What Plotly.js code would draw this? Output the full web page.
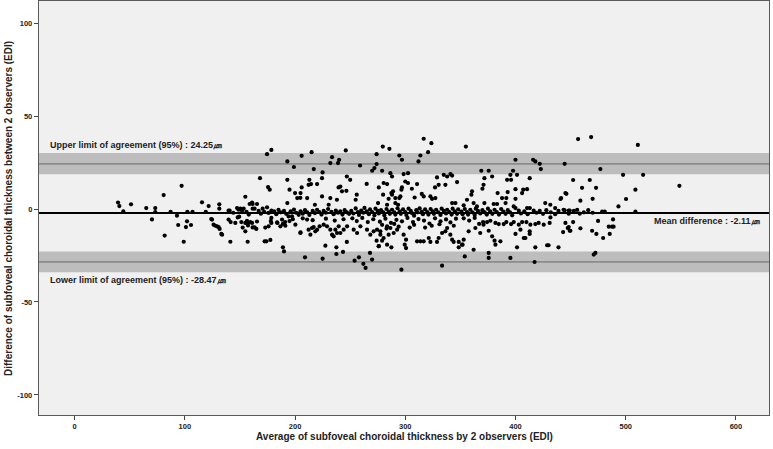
<!DOCTYPE html>
<html>
<head>
<meta charset="utf-8">
<script src="https://cdn.plot.ly/plotly-3.0.1.min.js"></script>
<style>
  body { margin: 0; background: #fff; }
  #chart { width: 773px; height: 449px; }
</style>
</head>
<body>
<div id="chart"></div>
<script>
// Bland-Altman: average of 2 observers (x) vs difference (y)
const meanDiff = -2.11;
const upperLoA = 24.25;
const lowerLoA = -28.47;
const upperBand = [18.7, 30.2];
const lowerBand = [-34.0, -22.9];
const xTicks = [0, 100, 200, 300, 400, 500, 600];
const yTicks = [-100, -50, 0, 50, 100];

// [average, difference] pairs, split by x range
const ptsBelow140 = [
  [39.4, 3.5], [40.6, 1.6], [44.2, -1.3], [51.2, 2.5], [65, 0.5], [70.2, -5.6], [73.2, 0.5], [73.2, -1.6],
  [80.8, 7.5], [81.7, -14.3], [87.1, -1.5], [92.9, -3.6], [94, -8.6], [97.1, 12.5], [99, -17.6], [101, -9.7],
  [102, -6.6], [102.3, -1.5], [105.6, -8.6], [107, -1.5], [115.6, 3.6], [119, -1.5], [121.6, 1.6], [124, -5.4],
  [124.7, -5.7], [126.1, -8.4], [127.7, -9], [129.2, -9.3], [130.7, -9.7], [131.3, 2.5], [131.3, 0.2], [131.6, -10.7],
  [133.1, -13.4], [133.8, -13.8], [139.7, -0.9], [139.7, -5.7]
];

const pts140to250 = [
  [154.9, 6.6], [168.2, 16.6], [175.5, 11.8], [177, 10.4], [174.6, 29.5], [178.5, 31.8], [193, 25.6], [199, 22.6],
  [206, 28.6], [215, 30.6], [217, 21.5], [225, 19.7], [232, 24.7], [239, 24.7], [240, 26.5], [246, 31.5],
  [233.6, 27.9], [193, 15.7], [213, 15.7], [214.5, 13.4], [220, 13.4], [224.5, 16.6], [195, 10.4], [200, 8.6],
  [205, 8.6], [206, 11.6], [202, 5.9], [211, 5.9], [224.5, 6.8], [232, 5.9], [238, 5], [239.5, 11.6],
  [242.6, 9.5], [247, 17.5], [212.3, 13], [241.1, 12.1], [246.6, 9.8], [204.8, 6],
  [161, 3.5], [161.5, 2.7], [165.5, 2.7], [158.8, 2.7], [193, 3.2], [218, 2.3], [230.5, 2.3], [174.6, 0.9], [147.4, 0.5],
  [140.7, -0.9], [148.8, -0.4], [150.4, 0.2], [151.9, -0.9], [153.4, 0.2], [161.5, 0.2], [163.3, 0.2], [170.6, 0.2],
  [178.5, -0.9], [176, -2.1], [148, -4.5], [149.3, -4.1], [194.2, -4], [197.3, -4], [203.3, -3.1],
  [144, -2], [156, -1.5], [158, -3], [167, -1], [169, -2.5], [172, -1.5], [181, -1.2], [183, -2.8],
  [185, -0.5], [187, -1.8], [190, -1], [192, -2.6], [196, -1.2], [199, -0.3], [201, -2], [205, -1.2],
  [207, -2.5], [209, -0.6], [211, -1.8], [213, -3.2], [216, -1], [218, -2.2], [220, -0.4], [222, -1.6],
  [224, -3], [226, -1], [228, -2], [230, 0], [233, -1.5], [235, -2.8], [237, -0.8], [239, -2],
  [241, -1.2], [243, -3], [245, -0.6], [247, -1.8], [249, -2.6],
  [141.6, -7], [145.8, -7.5], [141.3, -17.6], [151.3, -7], [154.9, -7.5], [156.4, -6.3], [157.3, -7.5], [159.4, -7],
  [161, -7.5], [152.5, -10], [154.9, -12], [157.3, -8.8], [161.5, -9.9], [163.3, -9.9], [157, -17.6], [172.4, -17.4],
  [174, -17.4], [177.6, -16.6], [173, -10], [178.5, -4.8], [178.5, -7.5], [164.9, -10.7], [165.5, -6.7], [176, -9.3],
  [183.7, -7.2], [186.7, -9.3], [188.2, -5.7], [191.2, -9], [200.3, -8.4], [204.8, -12.9], [210.9, -5.7], [212.3, -11.1],
  [213.9, -13.8], [215.4, -10.2], [216.9, -9.7], [218.4, -12], [220, -11.1], [222.3, -9.3], [226, -8.4], [229, -9.3],
  [232, -11.1], [233.6, -13.8], [235, -14.7], [236.6, -11.1], [238.1, -12.9], [239.6, -9.3], [241.1, -12.9], [244.1, -11.1],
  [247.2, -9.3], [178, -6.5], [184, -7.5], [189, -8], [191, -7], [195, -6.5], [205, -12.6], [189, -20.6],
  [190, -22.8], [209, -26], [227.5, -19.7], [225, -26.7], [237.5, -20.6], [237.5, -24.2], [243.5, -23.1], [247, -17.7],
  [198, -5.5], [207, -5], [216, -6], [228, -5.2], [236, -6.2], [244, -5.5]
];

const pts250to350 = [
  [259, 23.4], [270, 20.6], [272, 22], [274, 24.2], [274, 29.5], [279.6, 33.6], [285.6, 32.4], [316.7, 37.8],
  [323.7, 35.4], [320.7, 30.6], [294.6, 28.8], [297, 26.5], [313.7, 28.8], [312, 25.6], [279, 20.6], [286.5, 19.3],
  [288, 17.5], [298.5, 18.8], [302.5, 19.3], [280.4, 14], [283.5, 13.4], [300, 14.8], [302.5, 14], [310.7, 13.4],
  [276, 11.6], [328.8, 17], [334.9, 18.4], [338, 17.5], [341, 18.8], [342.5, 18], [347, 14.5], [327, 11.6],
  [330.3, 13], [336.4, 13], [297, 11.6], [296.5, 10.4], [295.6, 6.8], [287.4, 8.6], [291, 5.9], [294.6, 5.9],
  [284.9, 5.5], [306, 10.9], [308.5, 6.2], [315, 8.1], [316.7, 6.8], [322.8, 6.8], [324.3, 5.5], [327.3, 5.9],
  [275.3, 3.2], [283.5, 2.3], [291, 3.2], [293.5, 2.3], [342.5, 3.2], [345.5, 3.2], [250, 15.7], [256, 7.7],
  [255, 5], [265, 13.5], [279.9, 7.7], [288, 7.7], [288.9, 9.5],
  [251, -1], [253, -2.4], [255, 0.3], [257, -1.6], [258, -3.2], [260, -0.8], [262, -2], [263, 0.6],
  [265, -1.2], [267, -2.8], [268, -0.2], [270, -1.6], [272, -3.4], [273, 0.2], [275, -1], [276, -2.4],
  [278, -0.6], [280, -1.8], [281, -3.4], [283, 0], [285, -1.4], [286, -2.6], [288, -0.4], [290, -1.8],
  [291, -3], [293, 0.4], [295, -1.2], [296, -2.6], [298, -0.2], [300, -1.6], [301, -3.2], [303, 0.2],
  [305, -1], [306, -2.2], [308, -3.6], [310, -0.6], [311, -1.8], [313, 0.4], [315, -1.4], [316, -2.8],
  [318, -0.2], [320, -1.6], [321, -3], [323, 0], [325, -1.2], [326, -2.6], [328, -0.4], [330, -1.8],
  [332, -3.2], [333, 0.2], [335, -1], [337, -2.4], [338, -0.4], [340, -1.6], [342, -3], [343, 0.2],
  [345, -1.2], [347, -2.6], [348, -0.2],
  [252, -5], [256, -6.5], [261, -4.8], [266, -7], [271, -5.5], [277, -6.8], [282, -5.2], [287, -7.4],
  [292, -5.8], [297, -6.6], [302, -4.8], [307, -7], [312, -5.4], [317, -6.2], [322, -7.8], [327, -5],
  [332, -6.6], [337, -5.6], [341, -7.2], [346, -5.2],
  [253.2, -11.1], [256.3, -12.9], [259.3, -9.3], [265.3, -11.1], [268.3, -13.8], [271.3, -12], [274.4, -11.1], [277.4, -13.8],
  [280.4, -15.6], [283.5, -9.3], [286.5, -10.2], [289.5, -12.9], [292.6, -11.1], [274, -17], [276, -20], [268, -23.6],
  [254, -27.8], [258, -26], [262, -29.5], [264, -31.7], [269.9, -27.2], [277.4, -12], [279, -17], [283.5, -19.2],
  [287.4, -20.6], [275.9, -20], [284.9, -13.8], [298.5, -13.8], [300.7, -16.5], [299.5, -19.2], [300.7, -21], [310.7, -17.4],
  [313.7, -17.4], [316.7, -17.4], [321.3, -15.6], [322.8, -17.7], [328.8, -17.7], [330.3, -15.6], [333.4, -12.9], [336.4, -12],
  [338, -10.2], [340.9, -13.8], [342.5, -16.5], [343.9, -17.7], [348.5, -17.7], [296.5, -32.6], [333.4, -30.5], [348.5, -20.6],
  [279, -8.5], [283, -10.5], [290, -8], [294, -9.5], [304, -10], [308, -8.5], [318, -10], [324, -9],
  [331, -8.2], [344, -9]
];

const pts350to450 = [
  [355, 33.6], [369, 20.6], [360.6, 9.5], [360, 7.7], [370, 10.9], [371, 13], [356, 5], [362, 3.2],
  [365, 1.4], [353, 2], [400, 26.5], [416, 26.5], [418, 25.6], [422, 24.3], [423, 21.5], [444.6, 24.3],
  [375.7, 20.6], [397.8, 20.6], [395.4, 18.4], [401.4, 18.4], [392.4, 15.7], [396, 15.7], [378.8, 17.5], [371.8, 16.6],
  [412.9, 16.6], [400, 10.7], [407, 10.4], [410.5, 10.7], [406, 8.6], [383.8, 8.6], [387.8, 5.9], [391.7, 5.9],
  [392.9, 9.1], [400, 5.5], [441.4, 5.9], [446.2, 8.2], [371.8, 3.2], [380.2, 2.7], [383.3, 2.7], [391, 3.2],
  [427, 3.2], [431.6, 2.3], [436, 0.5], [398.4, 1.4], [410.5, 0.5], [413, 0.5], [445.3, 8.6], [440.8, 5.4],
  [351, -1.4], [352, -2.8], [354, 0], [356, -1.6], [357, -3], [359, -0.4], [361, -1.8], [363, -3.2],
  [364, 0.2], [366, -1], [368, -2.4], [370, -0.6], [372, -1.8], [374, -3], [375, 0.2], [377, -1.2],
  [379, -2.6], [381, -0.4], [383, -1.6], [385, -3], [387, 0], [389, -1.4], [391, -2.6], [393, -0.6],
  [395, -1.8], [397, -3.4], [400, 0.5], [403, -0.9], [405, -2.4], [408, -1.2], [411, -2.8], [416.5, -0.9],
  [419, -2], [422, -1], [425, -2.6], [428, -0.6], [432, -1.8], [436, -2.8], [439, -1], [443.6, -0.4],
  [448.3, -0.9], [444.6, -0.7], [449.2, -0.8], [448.3, -2.5],
  [370.6, -7], [374.2, -7], [377.2, -6.3], [381.8, -7.5], [384.8, -8.1], [389.3, -8.1], [391.7, -7], [396, -8.1],
  [398.4, -7], [403, -8.4], [406, -7], [409.9, -7], [413.5, -8.4], [418, -8.1], [421, -7.5], [425.6, -8.4],
  [431, -7.5], [431.7, -4.5], [353, -5], [358, -6.2], [363, -4.8], [367, -8],
  [375.7, -11.7], [378.8, -14.7], [381, -17], [381.8, -19.2], [386.3, -17.4], [400, -13.4], [404.5, -11.1], [407.5, -15.6],
  [409, -15.6], [412.9, -13.4], [412.9, -12], [418, -20.6], [428.7, -19.5], [430, -19.5], [439, -20.6], [443.2, -12.4],
  [447.4, -10.2], [449.2, -11.7], [401.4, -20.6], [375.7, -23.6], [375.7, -26.3], [395.4, -26.3], [417.3, -28.5], [354, -25.5],
  [362, -21.9], [357.5, -12], [363.6, -10.2], [368, -12.9], [371, -8.4], [352, -19.2], [353, -16.5], [351.5, -19.2],
  [445.3, -7.5], [448.3, -9.7]
];

const ptsAbove450 = [
  [456.8, 37.6], [468.6, 38.7], [511, 34.5], [477, 21.5], [497.6, 18.4], [515.8, 18.4], [548.7, 12.5], [452.3, 15.6],
  [467.4, 15.6], [460.4, 11.4], [473.1, 11.4], [508.8, 10.4], [458.9, 4.5], [470, 5.5], [500.3, 5.4], [493.4, 1.4],
  [458.3, -2.5], [478.6, -1.4], [481, -1.4], [508.8, -1.4], [453, -1], [456, -0.5], [462, -1.8], [466, -0.6],
  [470, -2], [449.8, -11.7], [458.9, -10.4], [469.5, -11.7], [473.4, -13.4], [479.5, -15.6], [485.5, -13.4], [474.9, -6.4],
  [488.5, -5.6], [484.6, -9.5], [487.6, -9.5], [489, -9.5], [471, -24.5], [472.5, -23.6], [452.3, -7]
];

const allPts = ptsBelow140.concat(pts140to250, pts250to350, pts350to450, ptsAbove450);
const avg = allPts.map(p => p[0]);
const diff = allPts.map(p => p[1]);

const trace = {
  x: avg,
  y: diff,
  type: 'scatter',
  mode: 'markers',
  marker: { color: '#000', size: 4.2 },
  hoverinfo: 'skip'
};

const font = 'Liberation Sans, Arial, sans-serif';
const um = '\u339b';

const layout = {
  width: 773,
  height: 449,
  margin: { l: 39, r: 4, t: 1, b: 34 },
  paper_bgcolor: '#fff',
  plot_bgcolor: '#f0f0f0',
  showlegend: false,
  xaxis: {
    range: [-32.3, 630],
    tickvals: xTicks,
    ticktext: xTicks.map(v => '<b>' + v + '</b>'),
    ticks: 'outside', ticklen: 4, tickcolor: '#444',
    showgrid: false, zeroline: false,
    showline: true, mirror: true, linecolor: '#5a5a5a', linewidth: 1.2,
    tickfont: { family: font, size: 7.5, color: '#222' }
  },
  yaxis: {
    range: [-110.8, 111.9],
    tickvals: yTicks,
    ticktext: yTicks.map(v => '<b>' + v + '</b>'),
    ticks: 'outside', ticklen: 4, tickcolor: '#444',
    showgrid: false, zeroline: false,
    showline: true, mirror: true, linecolor: '#5a5a5a', linewidth: 1.2,
    tickfont: { family: font, size: 7.5, color: '#222' }
  },
  shapes: [
    { type: 'rect', xref: 'paper', yref: 'y', x0: 0, x1: 1, y0: upperBand[0], y1: upperBand[1],
      fillcolor: '#bdbdbd', line: { width: 0 }, layer: 'below' },
    { type: 'rect', xref: 'paper', yref: 'y', x0: 0, x1: 1, y0: lowerBand[0], y1: lowerBand[1],
      fillcolor: '#bdbdbd', line: { width: 0 }, layer: 'below' },
    { type: 'line', xref: 'paper', yref: 'y', x0: 0, x1: 1, y0: upperLoA, y1: upperLoA,
      line: { color: '#666', width: 1 }, layer: 'below' },
    { type: 'line', xref: 'paper', yref: 'y', x0: 0, x1: 1, y0: lowerLoA, y1: lowerLoA,
      line: { color: '#666', width: 1 }, layer: 'below' },
    { type: 'line', xref: 'paper', yref: 'y', x0: 0, x1: 1, y0: meanDiff, y1: meanDiff,
      line: { color: '#000', width: 2 } }
  ],
  annotations: [
    { x: -24, y: 34.5, xref: 'x', yref: 'y', xanchor: 'left', yanchor: 'middle', showarrow: false,
      text: '<b>Upper limit of agreement (95%) : ' + upperLoA.toFixed(2) + um + '</b>',
      font: { family: font, size: 9, color: '#222' } },
    { x: -24, y: -38, xref: 'x', yref: 'y', xanchor: 'left', yanchor: 'middle', showarrow: false,
      text: '<b>Lower limit of agreement (95%) : ' + lowerLoA.toFixed(2) + um + '</b>',
      font: { family: font, size: 9, color: '#222' } },
    { x: 524, y: -6.3, xref: 'x', yref: 'y', xanchor: 'left', yanchor: 'middle', showarrow: false,
      text: '<b>Mean difference : ' + meanDiff.toFixed(2) + um + '</b>',
      font: { family: font, size: 9, color: '#222' } },
    { x: 0.5, y: -0.051, xref: 'paper', yref: 'paper', xanchor: 'center', yanchor: 'middle', showarrow: false,
      text: '<b>Average of subfoveal choroidal thickness by 2 observers (EDI)</b>',
      font: { family: font, size: 10, color: '#222' } },
    { x: -0.0425, y: 0.5, xref: 'paper', yref: 'paper', xanchor: 'center', yanchor: 'middle', showarrow: false,
      textangle: -90,
      text: '<b>Difference of subfoveal choroidal thickness between 2 observers (EDI)</b>',
      font: { family: font, size: 10, color: '#222' } }
  ]
};

Plotly.newPlot('chart', [trace], layout, { displayModeBar: false, staticPlot: true });
</script>
</body>
</html>
